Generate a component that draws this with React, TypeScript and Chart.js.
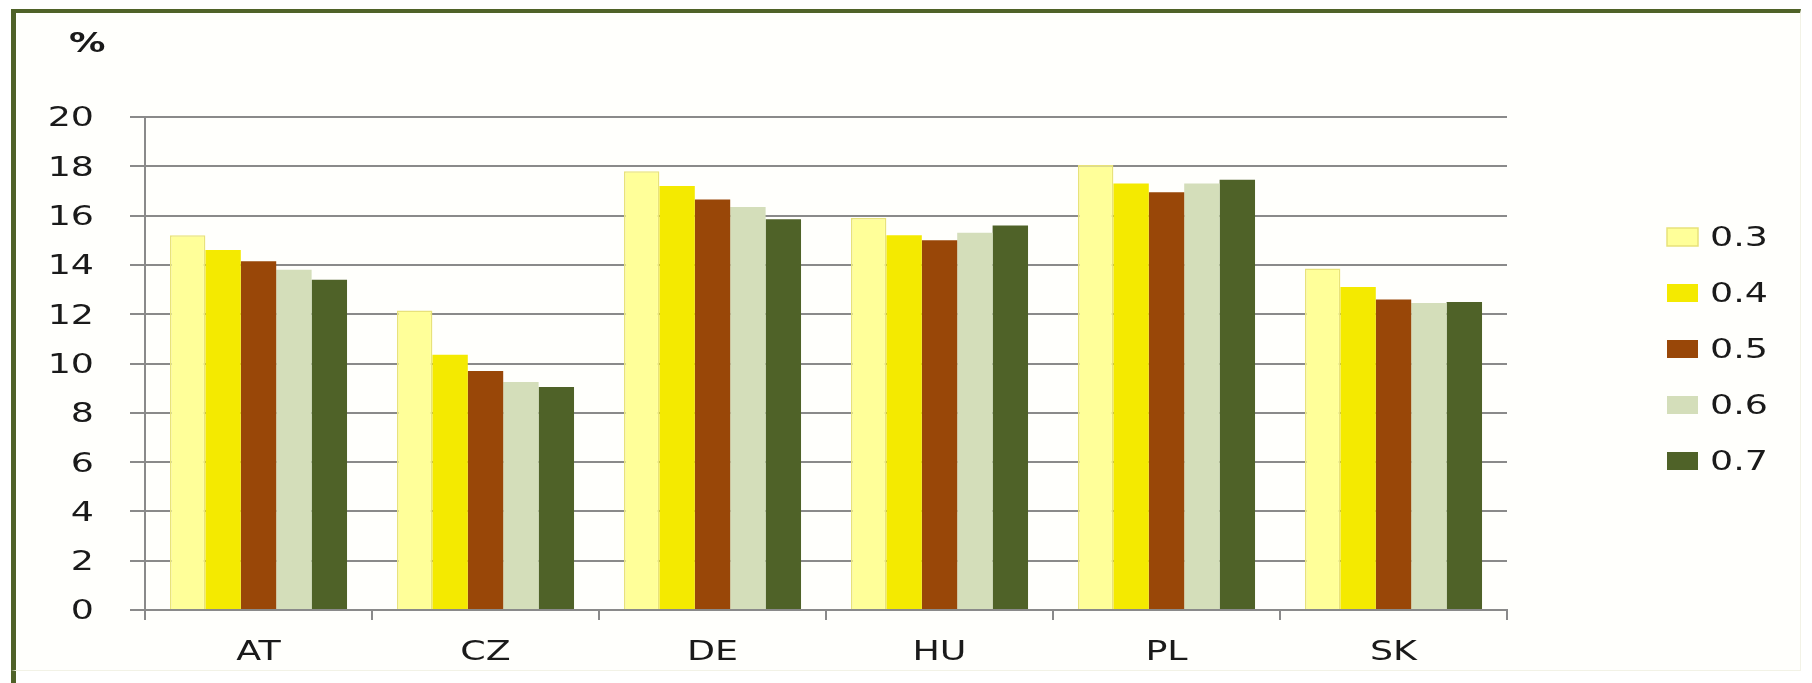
import React, { useEffect, useRef } from "react";
import { Chart, registerables } from "chart.js";

Chart.register(...registerables);

const categories = ["AT", "CZ", "DE", "HU", "PL", "SK"];
const seriesLabels = ["0.3", "0.4", "0.5", "0.6", "0.7"];
const s03 = [15.2, 12.15, 17.8, 15.9, 18.05, 13.85];
const s04 = [14.6, 10.35, 17.2, 15.2, 17.3, 13.1];
const s05 = [14.15, 9.7, 16.65, 15.0, 16.95, 12.6];
const s06 = [13.8, 9.25, 16.35, 15.3, 17.3, 12.45];
const s07 = [13.4, 9.05, 15.85, 15.6, 17.45, 12.5];
const seriesColors = ["#FFFF99", "#F4EA00", "#994708", "#D4DEBA", "#4F6228"];
const seriesBorders = ["#E8E27A", "#F4EA00", "#994708", "#D4DEBA", "#4F6228"];
const yUnit = "%";
const yMin = 0;
const yMax = 20;
const yStep = 2;

const FONT = '"DejaVu Sans", Verdana, sans-serif';
const SX = 1.4;
const FS = 26;

function drawText(ctx: CanvasRenderingContext2D, text: string, x: number, y: number, align: CanvasTextAlign, bold = false) {
  ctx.save();
  ctx.font = `${bold ? "bold " : ""}${FS}px ${FONT}`;
  ctx.translate(x, y);
  ctx.scale(SX, 1);
  ctx.textAlign = align;
  ctx.textBaseline = "alphabetic";
  ctx.fillText(text, 0, (FS * 0.729) / 2);
  ctx.restore();
}

const labelsPlugin = {
  id: "customLabels",
  afterDraw(chart: any) {
    const ctx: CanvasRenderingContext2D = chart.ctx;
    ctx.save();
    ctx.fillStyle = "#1a1a1a";
    const y = chart.scales.y;
    y.ticks.forEach((t: any, i: number) => {
      drawText(ctx, String(t.value), 94, y.getPixelForTick(i), "right");
    });
    const x = chart.scales.x;
    categories.forEach((c, i) => {
      drawText(ctx, c, x.getPixelForValue(i), 651, "center");
    });
    drawText(ctx, yUnit, 69, 43, "left", true);
    chart.data.datasets.forEach((ds: any, i: number) => {
      const cy = 237 + 56 * i;
      ctx.fillStyle = ds.backgroundColor;
      ctx.fillRect(1667, cy - 9, 31, 18);
      if (i === 0) {
        ctx.strokeStyle = ds.borderColor;
        ctx.lineWidth = 1.5;
        ctx.strokeRect(1667, cy - 9, 31, 18);
      }
      ctx.fillStyle = "#1a1a1a";
      drawText(ctx, ds.label, 1710, cy, "left");
    });
    ctx.restore();
  },
};

export default function App() {
  const ref = useRef<HTMLCanvasElement>(null);
  useEffect(() => {
    if (!ref.current) return;
    const series = [s03, s04, s05, s06, s07];
    const chart = new Chart(ref.current, {
      type: "bar",
      data: {
        labels: categories,
        datasets: series.map((d, i) => ({
          label: seriesLabels[i],
          data: d,
          backgroundColor: seriesColors[i],
          borderColor: seriesBorders[i],
          borderWidth: i === 0 ? 1.5 : 0,
          categoryPercentage: 0.78,
          barPercentage: 1,
        })),
      },
      options: {
        animation: false,
        responsive: false,
        devicePixelRatio: 1,
        layout: { padding: { top: 117, right: 305, left: 0, bottom: 0 } },
        plugins: { legend: { display: false }, tooltip: { enabled: false }, title: { display: false } },
        scales: {
          x: {
            type: "category",
            grid: { offset: true, drawOnChartArea: false, drawTicks: true, tickLength: 10, color: "#8a8a8a", lineWidth: 2 },
            border: { display: true, color: "#8a8a8a", width: 2 },
            ticks: { display: false },
            afterFit: (s: any) => {
              s.height = 73;
            },
          },
          y: {
            min: yMin,
            max: yMax,
            grid: { color: "#8a8a8a", lineWidth: 2, drawTicks: true, tickLength: 15 },
            border: { display: true, color: "#8a8a8a", width: 2 },
            ticks: { display: false, stepSize: yStep },
            afterFit: (s: any) => {
              s.width = 145;
            },
          },
        },
      },
      plugins: [labelsPlugin],
    });
    return () => chart.destroy();
  }, []);
  return (
    <div style={{ position: "fixed", left: 0, top: 0, width: 1812, height: 683, background: "#ffffff", overflow: "hidden" }}>
      <div
        style={{
          position: "absolute",
          left: 11,
          top: 9,
          width: 1790,
          height: 662,
          boxSizing: "border-box",
          borderLeft: "5px solid #4F6228",
          borderTop: "4px solid #4F6228",
          borderRight: "1px solid #f2f2e6",
          borderBottom: "1px solid #f2f2e6",
          background: "#fffffc",
        }}
      />
      <div
        style={{
          position: "absolute",
          left: 11,
          top: 671,
          width: 5,
          height: 12,
          background: "#4F6228",
        }}
      />
      <canvas ref={ref} width={1812} height={683} style={{ position: "absolute", left: 0, top: 0 }} />
    </div>
  );
}
